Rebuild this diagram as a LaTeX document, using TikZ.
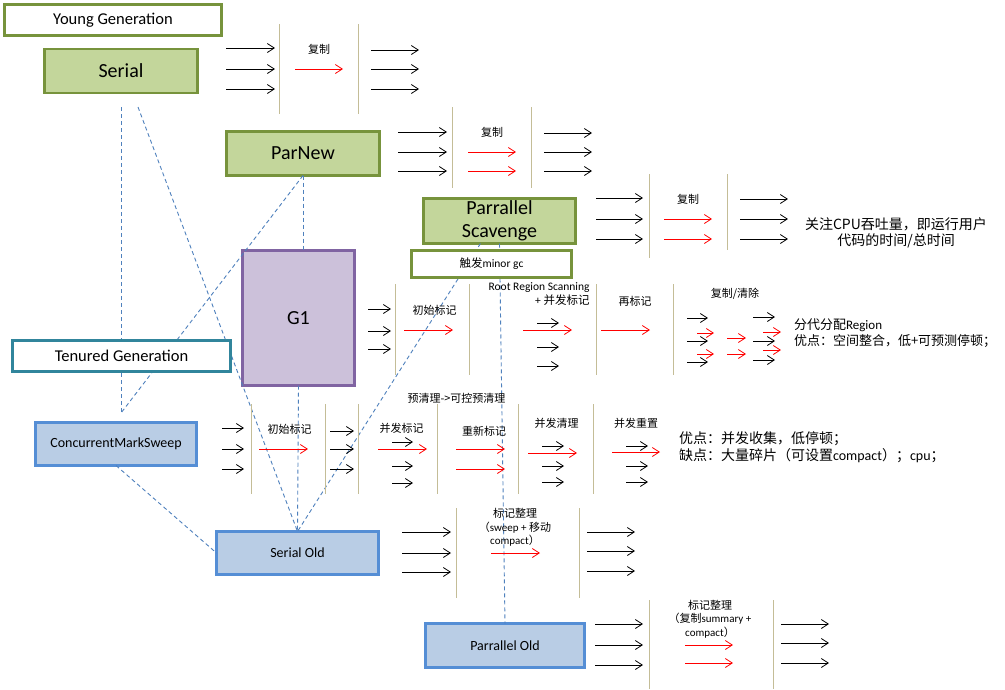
\documentclass[tikz,border=0pt]{standalone}
\usepackage{fontspec}
\setmainfont{Carlito}
\newfontfamily\cjk{Noto Sans CJK SC}
\usetikzlibrary{arrows.meta}

\definecolor{gfill}{RGB}{195,214,155}
\definecolor{gline}{RGB}{119,147,60}
\definecolor{pfill}{RGB}{204,193,218}
\definecolor{pline}{RGB}{128,100,162}
\definecolor{bfill}{RGB}{185,205,229}
\definecolor{bline}{RGB}{85,142,213}
\definecolor{tline}{RGB}{49,133,156}
\definecolor{sepcol}{RGB}{196,189,151}
\definecolor{linkcol}{RGB}{79,129,189}

\newcommand\zh[1]{{\cjk #1}}
% a row of horizontal arrows: style, x start, x end, list of y
\newcommand\arrowrow[4]{\foreach \yy in {#4} {\draw[#1] (#2,\yy) -- (#3,\yy);}}
% a row of separators: list of x, y top, y bottom
\newcommand\seprow[3]{\foreach \xx in {#1} {\draw[sepline] (\xx,#2) -- (\xx,#3);}}

\tikzset{
  every node/.style={inner sep=0pt, outer sep=0pt},
  box/.style={draw, line width=2.6pt, align=center},
  greenbox/.style={box, draw=gline, fill=gfill, font=\fontsize{20}{23}\selectfont},
  genbox/.style={box, fill=white, font=\fontsize{16.5}{19}\selectfont},
  purplebox/.style={box, draw=pline, fill=pfill, font=\fontsize{20}{23}\selectfont},
  bluebox/.style={box, draw=bline, fill=bfill, font=\fontsize{14}{17}\selectfont},
  tip/.style={line width=0.8pt, -{Straight Barb[length=7pt,width=9pt]}},
  blk/.style={tip, black},
  rd/.style={tip, red},
  sepline/.style={draw=sepcol, line width=1pt},
  link/.style={draw=linkcol, line width=0.9pt, dash pattern=on 4pt off 3pt},
  lbl/.style={font=\fontsize{11}{13.5}\selectfont, align=center},
  note/.style={font=\fontsize{14}{16.5}\selectfont, align=left, anchor=west},
}

\begin{document}
\begin{tikzpicture}[x=1pt,y=-1pt]
\useasboundingbox[fill=white] (0,0) rectangle (1005,689);

% collectors
\node[genbox, draw=gline, minimum width=217pt, minimum height=31pt] (young) at (113,20) {Young Generation};
\node[greenbox, minimum width=153pt, minimum height=44pt] (serial) at (121,71) {Serial};
\node[greenbox, minimum width=153pt, minimum height=44pt] (parnew) at (303,153.5) {ParNew};
\node[greenbox, minimum width=152pt, minimum height=45pt] (ps) at (499.5,221) {Parrallel\\Scavenge};
\node[purplebox, minimum width=112pt, minimum height=135pt] (g1) at (298.5,318) {G1};
\node[bluebox, minimum width=161pt, minimum height=43pt] (cms) at (116,444) {ConcurrentMarkSweep};
\node[bluebox, minimum width=162pt, minimum height=43pt] (serialold) at (297.5,553) {Serial Old};
\node[bluebox, minimum width=159pt, minimum height=44pt] (parold) at (505,645.5) {Parrallel Old};
\coordinate (cmsjoin) at (121,413);

% young/old pairings
\draw[link] ([yshift=-14pt]serial.south) -- (cmsjoin);
\draw[link] ([xshift=17pt,yshift=-14pt]serial.south) -- (serialold.north);
\draw[link] (parnew.south) -- (parnew.south |- g1.north);
\draw[link] (parnew.south) -- (cmsjoin);
\draw[link] ([xshift=-19pt]ps.south) -- (serialold.north);
\draw[link] (ps.south) -- (parold.north);
\draw[link] (g1.south) -- (serialold.north);
\draw[link] (cms.south) -- (serialold.west);

% boxes drawn over the pairing lines
\node[genbox, draw=tline, minimum width=218pt, minimum height=31pt] (tenured) at (121.5,356) {Tenured Generation};
\node[box, draw=gline, fill=white, minimum width=160pt, minimum height=27pt, font=\fontsize{11.5}{14}\selectfont] (minorgc) at (491.5,264) {\zh{触发}minor gc};

% Serial
\arrowrow{blk}{226}{275}{48,69,89}
\seprow{279,358}{24}{114}
\node[lbl] (s1) at (319,49) {\zh{复制}};
\arrowrow{rd}{295}{343}{69}
\arrowrow{blk}{371}{419}{50,69,89}

% ParNew
\arrowrow{blk}{398}{447}{132,152,171}
\seprow{452,531}{107}{188}
\node[lbl] (p1) at (492,132) {\zh{复制}};
\arrowrow{rd}{468}{516}{152,171}
\arrowrow{blk}{544}{592}{133,152,171}

% Parallel Scavenge
\arrowrow{blk}{596}{643}{198,219,239}
\draw[sepline] (649,174) -- (649,258);
\draw[sepline] (727,174) -- (727,250);
\node[lbl] (ps1) at (688,199) {\zh{复制}};
\arrowrow{rd}{664}{712}{219,239}
\arrowrow{blk}{740}{788}{199,219,239}
\node[font=\fontsize{14}{16.5}\selectfont, align=center] (psnote) at (896,233) {\zh{关注CPU吞吐量，即运行用户}\\\zh{代码的时间/总时间}};

% G1
\arrowrow{blk}{368}{391}{309,331,349}
\seprow{395,469,596,673}{284}{375}
\node[lbl] (g1a) at (434.5,310) {\zh{初始标记}};
\arrowrow{rd}{404}{453}{330}
\node[lbl, align=right, anchor=east, font=\fontsize{11.5}{13.5}\selectfont] (g1b) at (589.5,294) {Root Region Scanning\\+ \zh{并发标记}};
\arrowrow{blk}{537}{559}{323,347,366}
\arrowrow{rd}{523}{572}{330}
\node[lbl] (g1c) at (635,301) {\zh{再标记}};
\arrowrow{rd}{601}{650}{330}
\node[lbl] (g1d) at (735,294) {\zh{复制/清除}};
\arrowrow{blk}{687}{708}{318,341,362}
\arrowrow{rd}{697}{714}{333,354}
\arrowrow{rd}{727}{746}{338,354}
\arrowrow{blk}{753}{775}{317,341,360}
\arrowrow{rd}{763}{781}{332,350}
\node[note, font=\fontsize{13}{16.5}\selectfont] (g1note) at (794,333) {\zh{分代分配}Region\\\zh{优点：空间整合，低+可预测停顿；}};

% CMS
\arrowrow{blk}{222}{244}{428,449,469}
\seprow{251,325,358,437,518,593}{404}{494}
\node[lbl] (c1) at (289.5,429) {\zh{初始标记}};
\arrowrow{rd}{259}{308}{449}
\arrowrow{blk}{330}{354}{431,449,469}
\node[lbl] (c2) at (401.5,428) {\zh{并发标记}};
\arrowrow{blk}{392}{413}{442,466,483}
\arrowrow{rd}{378}{427}{449}
\node[lbl] (c3) at (456.5,398) {\zh{预清理->可控预清理}};
\node[lbl] (c4) at (484,431) {\zh{重新标记}};
\arrowrow{rd}{456}{505}{449,469}
\node[lbl] (c5) at (556.5,423) {\zh{并发清理}};
\arrowrow{blk}{542}{564}{446,466,482}
\arrowrow{rd}{528}{577}{453}
\node[lbl] (c6) at (636,423) {\zh{并发重置}};
\arrowrow{blk}{626}{648}{446,466,482}
\arrowrow{rd}{612}{660}{452}
\node[note] (cmsnote) at (679,447) {\zh{优点：并发收集，低停顿；}\\\zh{缺点：大量碎片（可设置}compact\zh{）；}cpu\zh{；}};

% Serial Old
\arrowrow{blk}{402}{451}{532,553,572}
\seprow{456,579}{508}{598}
\node[lbl] (so1) at (515,527.5) {\zh{标记整理}\\\zh{（}sweep + \zh{移动}\\compact\zh{）}};
\arrowrow{rd}{491}{540}{553}
\arrowrow{blk}{587}{635}{532,551,571}

% Parallel Old
\arrowrow{blk}{595}{643}{624,645,665}
\seprow{649,773}{600}{689}
\node[lbl] (po1) at (710,619) {\zh{标记整理}\\\zh{（复制}summary +\\compact\zh{）}};
\arrowrow{rd}{685}{733}{645,663}
\arrowrow{blk}{781}{829}{624,643,663}
\end{tikzpicture}
\end{document}
